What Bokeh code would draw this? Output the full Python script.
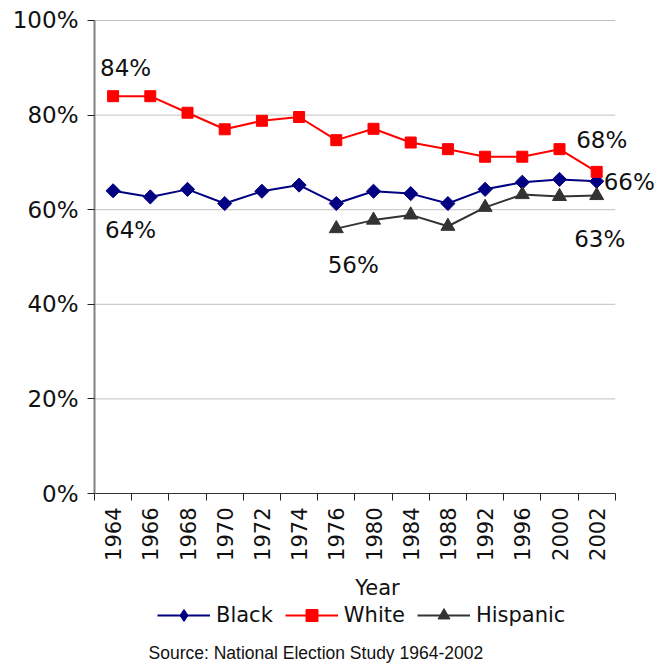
import math

from bokeh.plotting import figure
from bokeh.layouts import column
from bokeh.models import (FixedTicker, Legend, LegendItem, Label, Range1d,
                          CustomJSTickFormatter, PrintfTickFormatter,
                          ColumnDataSource)
from bokeh.embed import file_html
from bokeh.resources import INLINE

# Survey years (one category per slot on the x axis)
years = ["1964", "1966", "1968", "1970", "1972", "1974", "1976",
         "1980", "1984", "1988", "1992", "1996", "2000", "2002"]

# Percentages by group
black = [64.0, 62.7, 64.3, 61.3, 63.9, 65.2, 61.3,
         63.9, 63.4, 61.3, 64.3, 65.8, 66.4, 66.0]
white = [84.0, 84.0, 80.5, 77.0, 78.8, 79.6, 74.7,
         77.1, 74.2, 72.8, 71.2, 71.2, 72.8, 68.0]
hispanic_years = ["1976", "1980", "1984", "1988", "1992", "1996", "2000", "2002"]
hispanic = [56.0, 57.8, 58.9, 56.5, 60.5, 63.2, 62.8, 63.0]

series_names = ["Black", "White", "Hispanic"]
y_ticks = [0, 20, 40, 60, 80, 100]

FONT = "DejaVu Sans"
TEXT = "#111111"
NAVY, RED, DARK = "#000080", "#ff0000", "#333333"

N = len(years)
SLOT_PX = 37.2                # width of one year slot
FRAME_W = 566                 # slots plus room for the end call-outs
X_END = FRAME_W / SLOT_PX     # x range reaches past the last slot
LEFT = 94                     # left border shared by both rows


def slot(year):
    # centre of the year's category slot on a 0..N numeric axis
    return years.index(year) + 0.5


p = figure(width=667, height=602,
           x_range=Range1d(0, X_END), y_range=Range1d(0, 100.21),
           output_backend="svg", toolbar_location=None,
           min_border_left=LEFT, min_border_right=7, min_border_top=19,
           min_border_bottom=108)
p.outline_line_color = None
p.xgrid.grid_line_color = None
p.ygrid.grid_line_color = None

# horizontal grid lines spanning the year slots only
p.segment(x0=0, x1=N, y0=y_ticks[1:], y1=y_ticks[1:],
          line_color="#c0c0c0", line_width=1)

# y axis
p.yaxis.ticker = FixedTicker(ticks=y_ticks)
p.yaxis.bounds = (0, 100)
p.yaxis.formatter = PrintfTickFormatter(format="%d%%")
p.yaxis.axis_line_color = "#808080"
p.yaxis.axis_line_width = 2
p.yaxis.major_tick_in = 0
p.yaxis.major_tick_out = 7
p.yaxis.major_tick_line_color = "#222222"
p.yaxis.minor_tick_line_color = None
p.yaxis.major_label_standoff = 9
p.yaxis.major_label_text_font = FONT
p.yaxis.major_label_text_font_size = "23px"
p.yaxis.major_label_text_color = TEXT

# x axis: labels centred in each slot, tick marks on slot boundaries
p.xaxis.bounds = (0, N)
p.xaxis.ticker = FixedTicker(ticks=[slot(y) for y in years],
                             minor_ticks=list(range(N + 1)))
p.xaxis.formatter = CustomJSTickFormatter(
    args=dict(labels=years), code="return labels[Math.floor(tick)];")
p.xaxis.major_label_orientation = math.pi / 2
p.xaxis.major_tick_in = 0
p.xaxis.major_tick_out = 0
p.xaxis.minor_tick_in = 0
p.xaxis.minor_tick_out = 7
p.xaxis.minor_tick_line_color = "#222222"
p.xaxis.axis_line_color = "#333333"
p.xaxis.axis_line_width = 1
p.xaxis.major_label_standoff = 7
p.xaxis.major_label_text_font = FONT
p.xaxis.major_label_text_font_size = "21px"
p.xaxis.major_label_text_color = TEXT
p.xaxis.axis_label = "Year"
p.xaxis.axis_label_text_font = FONT
p.xaxis.axis_label_text_font_size = "21px"
p.xaxis.axis_label_text_font_style = "normal"
p.xaxis.axis_label_text_color = TEXT
p.xaxis.axis_label_standoff = 12

# series
src_b = ColumnDataSource(dict(x=[slot(y) for y in years], y=black))
src_w = ColumnDataSource(dict(x=[slot(y) for y in years], y=white))
src_h = ColumnDataSource(dict(x=[slot(y) for y in hispanic_years], y=hispanic))

STYLES = [
    dict(color=NAVY, marker="square", angle=math.pi / 4, size=10, key="diamond"),
    dict(color=RED, marker="square", angle=0, size=11, key="square"),
    dict(color=DARK, marker="triangle", angle=0, size=14, key="triangle"),
]

for src, st in zip([src_b, src_w, src_h], STYLES):
    p.line("x", "y", source=src, line_color=st["color"], line_width=2)
    p.scatter("x", "y", source=src, marker=st["marker"], angle=st["angle"],
              size=st["size"], fill_color=st["color"], line_color=st["color"])

# value call-outs at the first and last point of each series
callouts = [
    (years[0], white[0], -13, 28, "left"),
    (years[0], black[0], -8, -39, "left"),
    (hispanic_years[0], hispanic[0], 17, -36, "center"),
    (years[-1], white[-1], 5, 32, "center"),
    (years[-1], black[-1], 7, -1, "left"),
    (hispanic_years[-1], hispanic[-1], 3, -43, "center"),
]
for yr, val, dx, dy, align in callouts:
    p.add_layout(Label(x=slot(yr), y=val, text=f"{val:.0f}%",
                       x_offset=dx, y_offset=dy, text_align=align,
                       text_baseline="middle", text_font=FONT,
                       text_font_size="23px", text_color=TEXT))

# strip underneath: legend and source note
foot = figure(width=667, height=63, x_range=Range1d(0, 1),
              y_range=Range1d(0, 1), output_backend="svg",
              toolbar_location=None, x_axis_location=None,
              y_axis_location=None, min_border=0)
foot.outline_line_color = None
foot.xgrid.grid_line_color = None
foot.ygrid.grid_line_color = None

# legend keys: one line + marker per series, kept outside the strip's range
items = []
for name, st in zip(series_names, STYLES):
    key = ColumnDataSource(dict(x=[-5, -4], y=[-5, -5]))
    rl = foot.line("x", "y", source=key, line_color=st["color"], line_width=2)
    rm = foot.scatter(x=[-4.5], y=[-5], marker=st["key"],
                      size=st["size"], fill_color=st["color"],
                      line_color=st["color"])
    items.append(LegendItem(label=name, renderers=[rl, rm]))

legend = Legend(items=items, orientation="horizontal",
                location=(157 - LEFT, 35),
                glyph_width=53, glyph_height=30, label_standoff=6,
                spacing=12, padding=0, margin=0,
                border_line_color=None, background_fill_alpha=0,
                label_text_font=FONT, label_text_font_size="21px",
                label_text_color=TEXT, label_height=30)
foot.add_layout(legend, "center")

foot.add_layout(Label(x=148 - LEFT, y=13, x_units="screen", y_units="screen",
                      text="Source:  National Election Study 1964-2002",
                      text_baseline="middle", text_font="Liberation Sans",
                      text_font_size="17.5px", text_color=TEXT))

open("out.html", "w").write(file_html(column(p, foot, spacing=0), INLINE))
